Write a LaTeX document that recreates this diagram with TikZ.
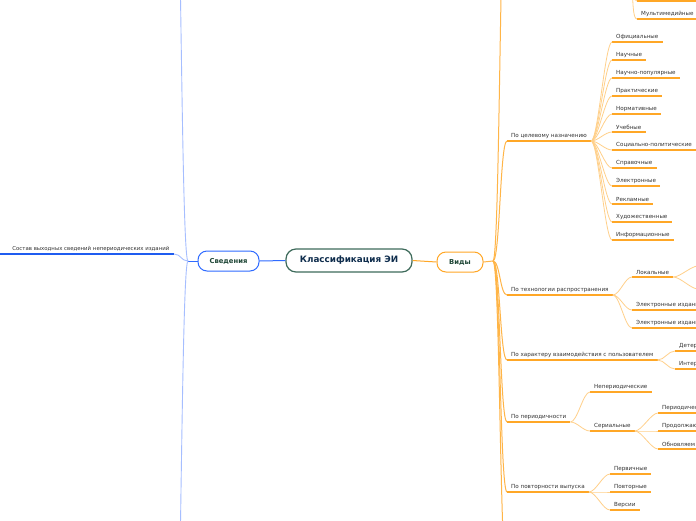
\documentclass[tikz,border=0pt]{standalone}
\usepackage{fontspec}
\setmainfont{DejaVu Sans}
\definecolor{orUL}{HTML}{FFA726}
\definecolor{orCon}{HTML}{FFD08A}
\definecolor{orTrunk}{HTML}{FFB547}
\definecolor{txt}{HTML}{333333}
\definecolor{blBorder}{HTML}{2F6BFF}
\definecolor{blCon}{HTML}{A6BEFF}
\definecolor{blUL}{HTML}{1F5CF0}
\definecolor{ctrBorder}{HTML}{3E6B5B}
\definecolor{ctrText}{HTML}{0F2D4D}
\definecolor{secText}{HTML}{1E4636}
\newcommand\leafat[5][]{\node[leaf,#1] (#2) at (#3,#4) {#5}; \draw[ul] (#2.south west) -- (#2.south east);}
\newcommand\conn[3][con]{\draw[#1] (#2) .. controls +(7,0) and +(-7,0) .. (#3);}
\newcommand\ext{\hspace{9pt}}
\begin{document}
\begin{tikzpicture}[x=1pt,y=-1pt,
  leaf/.style={font=\fontsize{5.6}{6.5}\selectfont, text=txt, inner xsep=4pt, inner ysep=2.4pt, anchor=south west},
  cut/.style={text width=80pt, align=left},
  ul/.style={draw=orUL, line width=1.3pt},
  con/.style={draw=orCon, line width=0.8pt},
  trunk/.style={draw=orTrunk, line width=1pt},
  bcon/.style={draw=blCon, line width=0.9pt},
  mainbox/.style={draw=ctrBorder, line width=1.2pt, rounded corners=10pt, fill=white, minimum width=126pt, minimum height=23pt, inner sep=0pt, font=\bfseries\fontsize{8.8}{10}\selectfont, text=ctrText},
  secbox/.style={rounded corners=9pt, fill=white, minimum height=20pt, inner sep=0pt, font=\bfseries\fontsize{6.8}{8}\selectfont, text=secText, line width=1pt}
]
\path[use as bounding box] (0,0) rectangle (696,520);
\clip (0,0) rectangle (696,520);
\fill[white] (0,0) rectangle (696,520);

% central and secondary nodes
\node[mainbox] (ctr) at (349,260.5) {Классификация ЭИ};
\node[secbox, draw=orUL, minimum width=46pt] (vidy) at (460,262) {Виды};
\node[secbox, draw=blBorder, minimum width=61pt] (sved) at (228.5,261) {Сведения};
\draw[orUL, line width=1pt] (ctr.east) -- (vidy.west);
\draw[blBorder, line width=1pt] (ctr.west) -- (sved.east);

% ---- left side (Сведения)
\coordinate (sj) at (188,261);
\coordinate (L) at (0,0);
\coordinate (svUp) at (174,-200);
\coordinate (svDn) at (174,720);
\draw[blBorder, line width=1pt] (sved.west) -- (sj);
\node[leaf, anchor=south east, inner xsep=4.5pt, font=\fontsize{5.4}{6.5}\selectfont] (sost) at (174,254) {Состав выходных сведений непериодических изданий};
\draw[blUL, line width=1.3pt] (sost.south east) -- (sost.south east -| L);
\draw[bcon] (sj) .. controls +(-7,0) and +(7,0) .. (sost.south east);
\draw[bcon] (sj) .. controls +(-7,0) and +(7,0) .. (svUp);
\draw[bcon] (sj) .. controls +(-7,0) and +(7,0) .. (svDn);

% ---- right side (Виды)
\coordinate (vj) at (493,261);
\coordinate (topB) at (507,-150);
\coordinate (botB) at (507,580);
\draw[trunk] (vidy.east) -- (vj);

\leafat{cel}{507}{141}{По целевому назначению\ext}
\leafat{teh}{507}{295}{По технологии распространения\ext}
\leafat{har}{507}{360}{По характеру взаимодействия с пользователем\ext}
\leafat{per}{507}{422}{По периодичности\ext}
\leafat{pov}{507}{492}{По повторности выпуска\ext}
\conn[trunk]{vj}{topB}
\conn[trunk]{vj}{cel.south west}
\conn[trunk]{vj}{teh.south west}
\conn[trunk]{vj}{har.south west}
\conn[trunk]{vj}{per.south west}
\conn[trunk]{vj}{pov.south west}
\conn[trunk]{vj}{botB}

% top partial branch
\coordinate (topSub) at (628,-30);
\leafat[minimum width=70pt]{topone}{637}{1}{}
\leafat[cut]{mult}{637}{19}{Мультимедийные}
\conn{topSub}{topone.south west}
\conn{topSub}{mult.south west}

% По целевому назначению
\leafat{c1}{612}{42}{Официальные}
\leafat{c2}{612}{60}{Научные}
\leafat{c3}{612}{78}{Научно-популярные}
\leafat{c4}{612}{96}{Практические}
\leafat{c5}{612}{114}{Нормативные}
\leafat{c6}{612}{132}{Учебные}
\leafat{c7}{612}{150}{Социально-политические}
\leafat{c8}{612}{168}{Справочные}
\leafat{c9}{612}{186}{Электронные}
\leafat{c10}{612}{204}{Рекламные}
\leafat{c11}{612}{222}{Художественные}
\leafat{c12}{612}{240}{Информационные}
\foreach \i in {1,...,12} {\conn{cel.south east}{c\i.south west}}

% По технологии распространения
\leafat{lok}{632}{277}{Локальные\ext}
\leafat[cut]{ei1}{632}{310}{Электронные издани}
\leafat[cut]{ei2}{632}{328}{Электронные издани}
\conn{teh.south east}{lok.south west}
\conn{teh.south east}{ei1.south west}
\conn{teh.south east}{ei2.south west}
\coordinate (lokA) at (698,266);
\coordinate (lokB) at (698,289);
\conn{lok.south east}{lokA}
\conn{lok.south east}{lokB}
\draw[ul] (lokA) -- ++(20,0);
\draw[ul] (lokB) -- ++(20,0);

% По характеру взаимодействия
\leafat[cut]{det}{675}{351}{Детер}
\leafat[cut]{int}{675}{369}{Интер}
\conn{har.south east}{det.south west}
\conn{har.south east}{int.south west}

% По периодичности
\leafat{nep}{590}{392}{Непериодические}
\leafat{ser}{590}{431}{Сериальные\ext}
\conn{per.south east}{nep.south west}
\conn{per.south east}{ser.south west}
\leafat[cut]{s1}{658}{413}{Периодичес}
\leafat[cut]{s2}{658}{431}{Продолжаю}
\leafat[cut]{s3}{658}{449}{Обновляем}
\conn{ser.south east}{s1.south west}
\conn{ser.south east}{s2.south west}
\conn{ser.south east}{s3.south west}

% По повторности выпуска
\leafat{v1}{610}{474}{Первичные}
\leafat{v2}{610}{492}{Повторные}
\leafat{v3}{610}{510}{Версии}
\conn{pov.south east}{v1.south west}
\conn{pov.south east}{v2.south west}
\conn{pov.south east}{v3.south west}
\end{tikzpicture}
\end{document}
